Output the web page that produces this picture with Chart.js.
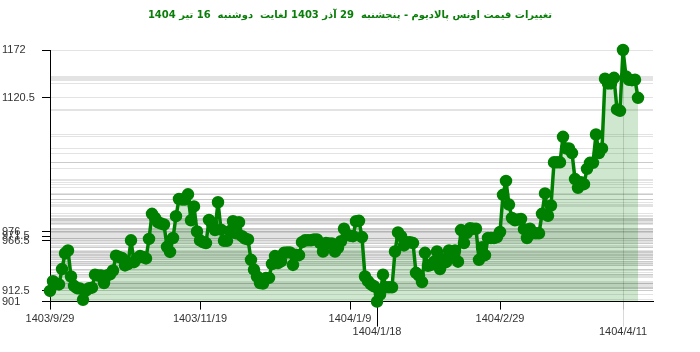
<!DOCTYPE html>
<html lang="fa">
<head>
<meta charset="utf-8">
<title>تغییرات قیمت اونس پالادیوم</title>
<script src="https://cdn.jsdelivr.net/npm/chart.js@4/dist/chart.umd.min.js"></script>
<style>
  html, body { margin: 0; padding: 0; background: #ffffff; }
  #contenedor { width: 700px; height: 352px; }
</style>
</head>
<body>
<div id="contenedor"><canvas id="graficoPaladio"></canvas></div>
<script>
// Título del gráfico
const tituloGrafico = 'تغییرات قیمت اونس پالادیوم - پنجشنبه  29 آذر 1403 لغایت  دوشنبه  16 تیر 1404';

// Precio diario de la onza de paladio
const precios = [
    912.5, 923, 920, 919.5, 936, 953, 956, 928, 918, 915.5,
    915, 903, 913, 915.5, 916, 930, 929, 929, 921, 929,
    930.5, 934.5, 950.5, 949, 948, 940, 941.5, 967, 943.5, 947.5,
    950, 949, 947.5, 968.5, 995.5, 991, 986.5, 985, 984, 960,
    954.5, 969.5, 993, 1011.5, 1011, 1011, 1016.5, 988.5, 1003.5, 976.5,
    967, 965, 964, 989, 985.5, 978, 1008, 978.5, 966.5, 966.5,
    977, 987.5, 974.5, 986.5, 971.5, 969, 968, 946, 935.5, 928,
    921, 920.5, 926.5, 926.5, 941.5, 950, 942.5, 944.5, 953.5, 954,
    954, 940.5, 951.5, 951, 965, 967, 967, 967, 968, 968,
    964, 955, 964, 963.5, 963.5, 955, 959, 966, 979.5, 973,
    972, 971.5, 987.5, 988, 970.5, 928, 923, 919.5, 917.5, 901,
    908.5, 930, 916.5, 916.5, 916.5, 955, 975.5, 971.5, 961.5, 965,
    965, 964, 932, 929, 922, 953.5, 939.5, 940.5, 944, 955,
    936, 946.5, 943.5, 956, 952, 956, 944, 978, 964, 975,
    980, 979.5, 979.5, 946, 959.5, 951, 969.5, 969.5, 969.5, 970.5,
    976, 1016, 1031, 1005.5, 991, 988.5, 989.5, 990, 979, 969.5,
    979.5, 974.5, 974.5, 974.5, 995.5, 1017.5, 993.5, 1004.5, 1051, 1051,
    1051, 1078.5, 1066, 1066, 1061, 1033, 1023.5, 1029.5, 1027.5, 1044,
    1050.5, 1050.5, 1081, 1061, 1066, 1141, 1136, 1136, 1142, 1108,
    1106.5, 1172, 1143.5, 1140, 1139.5, 1140, 1120.5
];

// Etiquetas del eje X (posición en la serie y fecha)
const indicesEtiquetas = [0, 50, 100, 109, 150, 191];
const fechasEtiquetas = ['1403/9/29', '1403/11/19', '1404/1/9', '1404/1/18', '1404/2/29', '1404/4/11'];

// Valores con etiqueta en el eje Y
const valoresEjeY = [901, 912.5, 966.5, 971.5, 976, 1120.5, 1172];

const indiceMin = precios.indexOf(Math.min(...precios));
const indiceMax = precios.indexOf(Math.max(...precios));
const puntos = precios.map((v, i) => ({ x: i, y: v }));

// Título centrado sobre todo el lienzo (no sobre el área con padding)
const tituloCentrado = {
    id: 'tituloCentrado',
    afterDraw(chart) {
        const { ctx } = chart;
        ctx.save();
        ctx.font = "bold 10px 'DejaVu Sans', sans-serif";
        ctx.fillStyle = '#0a7d0a';
        ctx.textAlign = 'center';
        ctx.textBaseline = 'middle';
        ctx.fillText(tituloGrafico, chart.width / 2, 15);
        ctx.restore();
    }
};

// Líneas de mínimo y máximo hasta la segunda fila de fechas
const lineasExtremos = {
    id: 'lineasExtremos',
    beforeDatasetsDraw(chart) {
        const { ctx, chartArea, scales } = chart;
        const xMin = Math.round(scales.x.getPixelForValue(indiceMin)) + 0.5;
        const xMax = Math.round(scales.x.getPixelForValue(indiceMax)) + 0.5;
        ctx.save();
        ctx.lineWidth = 1;
        ctx.strokeStyle = 'rgba(0,0,0,0.15)';
        ctx.beginPath();
        ctx.moveTo(xMax, scales.y.getPixelForValue(precios[indiceMax]));
        ctx.lineTo(xMax, chartArea.bottom + 25);
        ctx.stroke();
        ctx.strokeStyle = '#000';
        ctx.beginPath();
        ctx.moveTo(xMin, chartArea.bottom);
        ctx.lineTo(xMin, chartArea.bottom + 25);
        ctx.stroke();
        ctx.restore();
    }
};

new Chart(document.getElementById('graficoPaladio'), {
    type: 'line',
    data: {
        datasets: [{
            data: puntos,
            borderColor: '#008000',
            backgroundColor: 'rgba(0,128,0,0.19)',
            pointBackgroundColor: '#008000',
            pointBorderColor: '#008000',
            pointRadius: 4.5,
            borderWidth: 3.5,
            borderJoinStyle: 'round',
            borderCapStyle: 'round',
            fill: 'start',
            tension: 0,
            clip: false
        }]
    },
    options: {
        responsive: true,
        maintainAspectRatio: false,
        animation: false,
        layout: { padding: { left: 2, right: 47, top: 50, bottom: 10 } },
        plugins: {
            legend: { display: false },
            tooltip: { enabled: false },
            title: { display: false }
        },
        scales: {
            x: {
                type: 'linear',
                min: 0,
                max: 201,
                afterBuildTicks: (escala) => { escala.ticks = indicesEtiquetas.map(v => ({ value: v })); },
                ticks: {
                    autoSkip: false,
                    maxRotation: 0,
                    padding: 3,
                    color: '#333',
                    font: { family: "'Liberation Sans', Arial, sans-serif", size: 11 },
                    callback: (valor) => {
                        const fecha = fechasEtiquetas[indicesEtiquetas.indexOf(valor)];
                        return (valor === indiceMin || valor === indiceMax) ? ['', fecha] : fecha;
                    }
                },
                grid: {
                    drawOnChartArea: false,
                    tickLength: 8,
                    tickColor: (c) => (c.tick && c.tick.value === indiceMax) ? 'rgba(0,0,0,0.15)' : '#000'
                },
                border: { color: '#000', width: 1 }
            },
            y: {
                min: 901,
                max: 1172,
                afterBuildTicks: (escala) => {
                    const valores = [...new Set([...precios, ...valoresEjeY])].sort((a, b) => a - b);
                    escala.ticks = valores.map(v => ({ value: v }));
                },
                afterFit: (escala) => { escala.width = 48; },
                ticks: {
                    autoSkip: false,
                    crossAlign: 'far',
                    color: '#333',
                    font: { family: "'Liberation Sans', Arial, sans-serif", size: 11 },
                    callback: (valor) => valoresEjeY.includes(valor) ? String(valor) : ''
                },
                grid: {
                    color: 'rgba(0,0,0,0.11)',
                    tickLength: 8,
                    tickColor: (c) => (c.tick && valoresEjeY.includes(c.tick.value)) ? '#000' : 'transparent'
                },
                border: { color: '#000', width: 1 }
            }
        }
    },
    plugins: [lineasExtremos, tituloCentrado]
});
</script>
</body>
</html>
